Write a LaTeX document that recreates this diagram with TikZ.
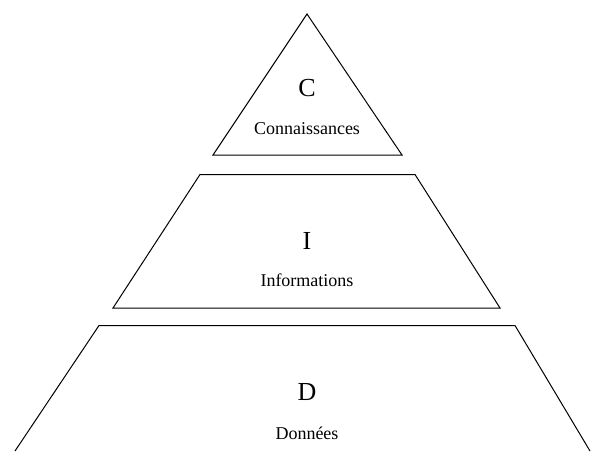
\documentclass[tikz,border=0pt]{standalone}
\usepackage{fontspec}
\setmainfont{Liberation Serif}
\begin{document}
\begin{tikzpicture}[x=1pt,y=-1pt,
  layer/.style={draw=black,line width=1pt,line join=miter},
  big/.style={font=\fontsize{26}{28}\selectfont,inner sep=0pt},
  small/.style={font=\fontsize{18}{20}\selectfont,inner sep=0pt}]
\useasboundingbox (0,0) rectangle (595,452);
\clip (0,0) rectangle (595,452);
% Triangle C
\draw[layer] (307,14) -- (213,155) -- (402,155) -- cycle;
% Trapezoid I
\draw[layer] (200,174.5) -- (415,174.5) -- (500,308) -- (113,308) -- cycle;
% Open trapezoid D
\draw[layer] (15,451) -- (99,325.5) -- (515,325.5) -- (590,451);
\node[big] (c) at (307,88) {C};
\node[small] (ct) at (307,129) {Connaissances};
\node[big] (i) at (307,241) {I};
\node[small] (it) at (307,280) {Informations};
\node[big] (d) at (307,392) {D};
\node[small] (dt) at (307,433) {Données};
\end{tikzpicture}
\end{document}
